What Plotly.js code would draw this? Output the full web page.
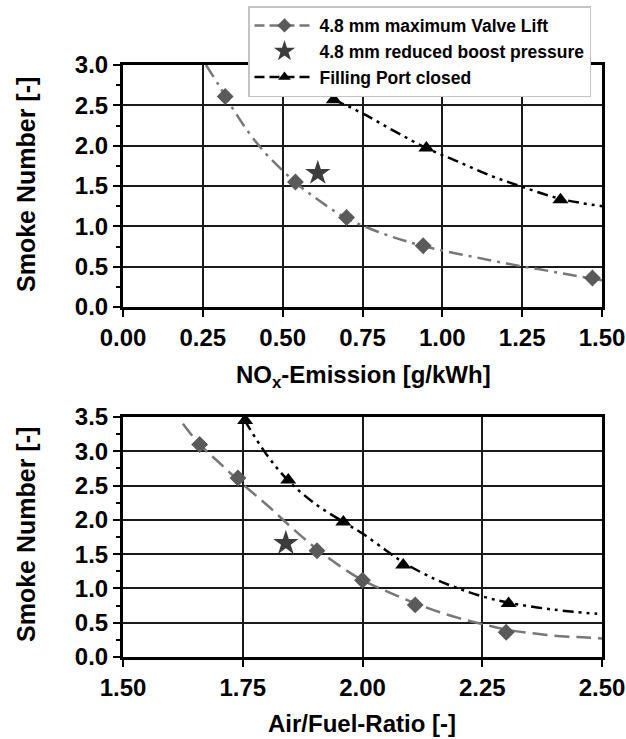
<!DOCTYPE html>
<html>
<head>
<meta charset="utf-8">
<script src="https://cdn.plot.ly/plotly-3.0.1.min.js"></script>
<style>html,body{margin:0;padding:0;background:#fff;}#chart{width:626px;height:739px;}</style>
</head>
<body>
<div id="chart"></div>
<script>
// ---- Series names ----
const nameLift = "4.8 mm maximum Valve Lift";
const nameBoost = "4.8 mm reduced boost pressure";
const namePort = "Filling Port closed";

// ---- Top chart: NOx-Emission vs Smoke Number ----
const noxLiftX = [0.32, 0.54, 0.70, 0.94, 1.47];
const noxLiftY = [2.61, 1.55, 1.11, 0.76, 0.36];
const noxBoostX = [0.61];
const noxBoostY = [1.66];
const noxPortX = [0.66, 0.95, 1.37];
const noxPortY = [2.57, 1.97, 1.33];
// fitted trend lines
const noxLiftFitX = [0.26, 0.30, 0.35, 0.40, 0.45, 0.50, 0.55, 0.60, 0.65, 0.70, 0.80, 0.90, 1.00, 1.10, 1.20, 1.30, 1.40, 1.50];
const noxLiftFitY = [3.00, 2.75, 2.42, 2.13, 1.89, 1.69, 1.51, 1.36, 1.22, 1.10, 0.93, 0.80, 0.70, 0.62, 0.54, 0.47, 0.40, 0.33];
const noxPortFitX = [0.66, 0.75, 0.85, 0.95, 1.05, 1.15, 1.25, 1.37, 1.50];
const noxPortFitY = [2.57, 2.40, 2.18, 1.97, 1.80, 1.63, 1.49, 1.34, 1.25];

// ---- Bottom chart: Air/Fuel-Ratio vs Smoke Number ----
const afrLiftX = [1.66, 1.74, 1.905, 2.00, 2.11, 2.30];
const afrLiftY = [3.10, 2.61, 1.55, 1.12, 0.76, 0.36];
const afrBoostX = [1.84];
const afrBoostY = [1.66];
const afrPortX = [1.755, 1.845, 1.96, 2.085, 2.305];
const afrPortY = [3.45, 2.58, 1.97, 1.34, 0.78];
const afrLiftFitX = [1.625, 1.66, 1.70, 1.74, 1.80, 1.85, 1.90, 1.95, 2.00, 2.05, 2.10, 2.15, 2.20, 2.25, 2.30, 2.35, 2.40, 2.45, 2.50];
const afrLiftFitY = [3.40, 3.10, 2.84, 2.58, 2.22, 1.90, 1.60, 1.34, 1.12, 0.96, 0.81, 0.68, 0.57, 0.48, 0.40, 0.35, 0.31, 0.29, 0.27];
const afrPortFitX = [1.754, 1.80, 1.844, 1.90, 1.96, 2.00, 2.05, 2.085, 2.15, 2.20, 2.25, 2.306, 2.40, 2.49];
const afrPortFitY = [3.45, 2.95, 2.58, 2.24, 1.97, 1.80, 1.55, 1.38, 1.14, 1.00, 0.885, 0.79, 0.69, 0.63];

// ---- Tick values ----
const noxTicks = [0, 0.25, 0.5, 0.75, 1.0, 1.25, 1.5];
const smokeTicksTop = [0, 0.5, 1.0, 1.5, 2.0, 2.5, 3.0];
const afrTicks = [1.5, 1.75, 2.0, 2.25, 2.5];
const smokeTicksBottom = [0, 0.5, 1.0, 1.5, 2.0, 2.5, 3.0, 3.5];

const FONT = "'Liberation Sans', Arial, Helvetica, sans-serif";
const diamondColor = "#5a5a5a";
const liftLine = "#777777";
const starColor = "#3c3c3c";

const W = 626, H = 739;
const px = v => v / W;
const py = v => 1 - v / H;

const portDash = "11px,5px,3px,5px,3px,5px";
const traces = [
  // top fits
  {x: noxLiftFitX, y: noxLiftFitY, mode: "lines", line: {color: liftLine, width: 2.5, dash: "14px,6px,3px,6px", shape: "spline"}, showlegend: false, xaxis: "x", yaxis: "y", hoverinfo: "skip"},
  {x: noxPortFitX, y: noxPortFitY, mode: "lines", line: {color: "#000", width: 2.5, dash: portDash, shape: "spline"}, showlegend: false, xaxis: "x", yaxis: "y", hoverinfo: "skip"},
  // top markers
  {x: noxLiftX, y: noxLiftY, mode: "markers", marker: {symbol: "diamond", size: 13, color: diamondColor}, showlegend: false, xaxis: "x", yaxis: "y"},
  {x: noxBoostX, y: noxBoostY, mode: "markers", marker: {symbol: "star", size: 19, color: starColor}, showlegend: false, xaxis: "x", yaxis: "y"},
  {x: noxPortX, y: noxPortY, mode: "markers", marker: {symbol: "triangle-up", size: 14, color: "#000"}, showlegend: false, xaxis: "x", yaxis: "y"},
  // bottom fits
  {x: afrLiftFitX, y: afrLiftFitY, mode: "lines", line: {color: liftLine, width: 2.5, dash: "15px,7px", shape: "spline"}, showlegend: false, xaxis: "x2", yaxis: "y2", hoverinfo: "skip"},
  {x: afrPortFitX, y: afrPortFitY, mode: "lines", line: {color: "#000", width: 2.5, dash: portDash, shape: "spline"}, showlegend: false, xaxis: "x2", yaxis: "y2", hoverinfo: "skip"},
  // bottom markers
  {x: afrLiftX, y: afrLiftY, mode: "markers", marker: {symbol: "diamond", size: 13, color: diamondColor}, showlegend: false, xaxis: "x2", yaxis: "y2"},
  {x: afrBoostX, y: afrBoostY, mode: "markers", marker: {symbol: "star", size: 19, color: starColor}, showlegend: false, xaxis: "x2", yaxis: "y2"},
  {x: afrPortX, y: afrPortY, mode: "markers", marker: {symbol: "triangle-up", size: 14, color: "#000"}, showlegend: false, xaxis: "x2", yaxis: "y2"},
  // legend entries
  {x: [null], y: [null], name: nameLift, mode: "lines+markers", line: {color: liftLine, width: 2.5, dash: "10px,5px"}, marker: {symbol: "diamond", size: 11, color: diamondColor}, xaxis: "x", yaxis: "y"},
  {x: [null], y: [null], name: nameBoost, mode: "markers", marker: {symbol: "star", size: 16, color: starColor}, xaxis: "x", yaxis: "y"},
  {x: [null], y: [null], name: namePort, mode: "lines+markers", line: {color: "#000", width: 2.5, dash: "10px,5px"}, marker: {symbol: "triangle-up", size: 11, color: "#000"}, xaxis: "x", yaxis: "y"}
];

const tickFont = {family: FONT, size: 24, color: "#000", weight: "bold"};
const axisCommon = {
  showgrid: true, gridcolor: "#1a1a1a", gridwidth: 2,
  showline: true, linecolor: "#000", linewidth: 3, mirror: true,
  ticks: "outside", tickcolor: "#000", tickwidth: 2, ticklen: 7,
  tickfont: tickFont, zeroline: false, fixedrange: true
};
const minorTicks = {ticks: "outside", ticklen: 4, tickwidth: 2, tickcolor: "#000", dtick: 0.25, showgrid: false};

const layout = {
  width: W, height: H,
  margin: {l: 0, r: 0, t: 0, b: 0},
  paper_bgcolor: "#fff", plot_bgcolor: "#fff",
  font: {family: FONT, color: "#000"},
  showlegend: true,
  legend: {
    x: px(248), y: py(6), xanchor: "left", yanchor: "top",
    bgcolor: "#fff", bordercolor: "#c4c4c4", borderwidth: 1.5,
    font: {family: FONT, size: 17.5, color: "#000", weight: "bold"},
    itemwidth: 60, tracegroupgap: 0
  },
  xaxis: Object.assign({}, axisCommon, {domain: [px(123), px(602)], range: [0, 1.5], tickvals: noxTicks, tickformat: ".2f", anchor: "y"}),
  yaxis: Object.assign({}, axisCommon, {domain: [py(307), py(65)], range: [0, 3], tickvals: smokeTicksTop, tickformat: ".1f", anchor: "x", minor: minorTicks}),
  xaxis2: Object.assign({}, axisCommon, {domain: [px(123), px(602)], range: [1.5, 2.5], tickvals: afrTicks, tickformat: ".2f", anchor: "y2"}),
  yaxis2: Object.assign({}, axisCommon, {domain: [py(657), py(417)], range: [0, 3.5], tickvals: smokeTicksBottom, tickformat: ".1f", anchor: "x2", minor: minorTicks}),
  annotations: [
    {text: "Smoke Number [-]", xref: "paper", yref: "paper", x: px(26), y: py(185), textangle: -90, showarrow: false,
     font: {family: FONT, size: 25, color: "#000", weight: "bold"}, xanchor: "center", yanchor: "middle"},
    {text: "Smoke Number [-]", xref: "paper", yref: "paper", x: px(26), y: py(535), textangle: -90, showarrow: false,
     font: {family: FONT, size: 25, color: "#000", weight: "bold"}, xanchor: "center", yanchor: "middle"},
    {text: "NO<sub>x</sub>-Emission [g/kWh]", xref: "paper", yref: "paper", x: px(363), y: py(376), showarrow: false,
     font: {family: FONT, size: 24, color: "#000", weight: "bold"}, xanchor: "center", yanchor: "middle"},
    {text: "Air/Fuel-Ratio [-]", xref: "paper", yref: "paper", x: px(362), y: py(723), showarrow: false,
     font: {family: FONT, size: 24, color: "#000", weight: "bold"}, xanchor: "center", yanchor: "middle"}
  ]
};

Plotly.newPlot("chart", traces, layout, {displayModeBar: false, staticPlot: true});
</script>
</body>
</html>
